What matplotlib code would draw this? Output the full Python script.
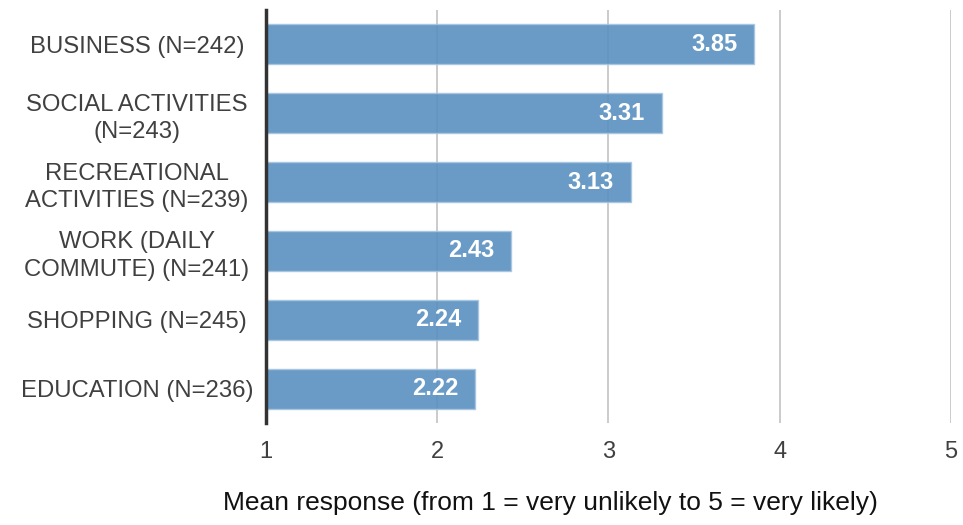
import matplotlib.pyplot as plt

# 응답 평균값 (위에서 아래 순서)
categories = [
    'BUSINESS (N=242)',
    'SOCIAL ACTIVITIES\n(N=243)',
    'RECREATIONAL\nACTIVITIES (N=239)',
    'WORK (DAILY\nCOMMUTE) (N=241)',
    'SHOPPING (N=245)',
    'EDUCATION (N=236)',
]
means = [3.85, 3.31, 3.13, 2.43, 2.24, 2.22]
x_ticks = [1, 2, 3, 4, 5]

plt.rcParams['font.family'] = ['Liberation Sans', 'DejaVu Sans']

fig = plt.figure(figsize=(9.63, 5.25), dpi=100)
ax = fig.add_axes([0.2762, 0.1943, 0.7113, 0.7867])

y = list(range(len(categories)))
# 막대는 1에서 시작, 살짝 투명하게 해서 격자선이 비치도록
ax.barh(y, [m - 1 for m in means], left=1, height=0.58,
        color='#5990c0', alpha=0.9, edgecolor='#a8c6e0', linewidth=1, zorder=2)

for yi, m in zip(y, means):
    ax.annotate(f'{m:.2f}', xy=(m, yi), xytext=(-12, 0), textcoords='offset points',
                ha='right', va='center', color='white', fontsize=17,
                fontweight='bold', zorder=3)

ax.set_xlim(1, 5)
ax.set_ylim(len(categories) - 0.5, -0.5)
ax.set_xticks(x_ticks)
ax.set_yticks(y)
ax.set_yticklabels(categories, ha='center', fontsize=17.2, color='#404040',
                   linespacing=1.32)
ax.tick_params(axis='y', length=0, pad=93)
ax.tick_params(axis='x', length=0, pad=13, labelsize=17, labelcolor='#404040')

ax.grid(axis='x', color='#bdbdbd', linewidth=1.1, zorder=1)
for side in ['top', 'right', 'bottom']:
    ax.spines[side].set_visible(False)
ax.spines['left'].set_color('#333333')
ax.spines['left'].set_linewidth(2.5)
ax.spines['left'].set_zorder(4)

ax.set_xlabel('Mean response (from 1 = very unlikely to 5 = very likely)',
              fontsize=19, color='#111111')
ax.xaxis.set_label_coords(0.416, -0.165)

fig.savefig('out.png', dpi=100)
